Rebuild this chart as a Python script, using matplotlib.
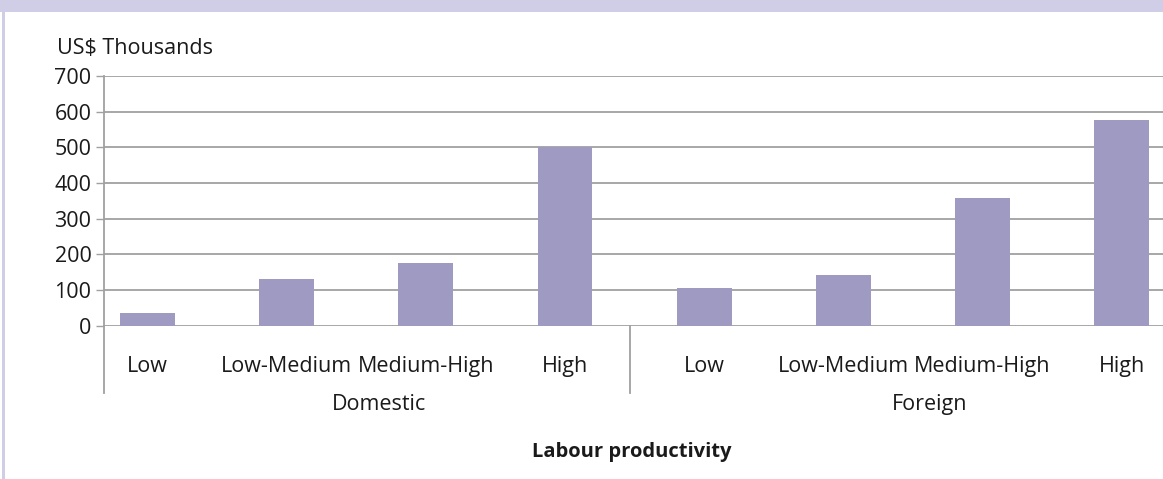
import matplotlib.pyplot as plt
import matplotlib.transforms as mtransforms
from matplotlib.patches import Rectangle

plt.rcParams['font.family'] = ['Open Sans', 'DejaVu Sans']

# values (US$ thousands)
groups = ['Domestic', 'Foreign']
levels = ['Low', 'Low-Medium', 'Medium-High', 'High']
domestic = [35, 132, 177, 500]
foreign = [105, 143, 359, 577]
yticks = [0, 100, 200, 300, 400, 500, 600, 700]

bar_color = '#9e9ac2'
grid_color = '#a0a0a0'
frame_color = '#d0cee6'
text_color = '#1a1a1a'
fs = 15.5

fig = plt.figure(figsize=(11.63, 4.79), dpi=100)
fig.patch.set_facecolor('white')

# lavender frame bits (top band and left strip)
fig.patches.append(Rectangle((0, 1 - 12 / 479), 1, 12 / 479, transform=fig.transFigure,
                             facecolor=frame_color, edgecolor='none', zorder=0))
fig.patches.append(Rectangle((2 / 1163, 0), 3 / 1163, 1, transform=fig.transFigure,
                             facecolor=frame_color, edgecolor='none', zorder=0))

ax = fig.add_axes([104 / 1163, 153.3 / 479, 1 - 104 / 1163, (403 - 153.3) / 479])

values = domestic + foreign
xpos = list(range(len(values)))
ax.bar(xpos, values, width=0.395, color=bar_color, zorder=3)

ax.set_ylim(0, 700)
ax.set_xlim(-0.3126, 7.297)
ax.set_yticks(yticks)
ax.set_yticklabels([str(t) for t in yticks], fontsize=fs, color=text_color)
ax.tick_params(axis='y', length=6, width=1, color=grid_color, pad=3)
ax.set_xticks([])
ax.yaxis.grid(True, color=grid_color, linewidth=1.3, zorder=0)

for s in ['top', 'right', 'bottom']:
    ax.spines[s].set_visible(False)
ax.spines['left'].set_color(grid_color)
ax.spines['left'].set_linewidth(1.3)

trans = mtransforms.blended_transform_factory(ax.transData, ax.transAxes)
# extended left axis and group separator below the plot
ax.plot([-0.3126, -0.3126], [0, -0.27], transform=trans, color=grid_color,
        linewidth=1.3, clip_on=False)
ax.plot([3.47, 3.47], [0, -0.27], transform=trans, color=grid_color,
        linewidth=1.3, clip_on=False)

for i, x in enumerate(xpos):
    ax.text(x, -0.163, levels[i % 4], transform=trans, ha='center', va='center',
            fontsize=fs, color=text_color)
for g, name in enumerate(groups):
    ax.text([1.66, 5.62][g], -0.316, name, transform=trans, ha='center', va='center',
            fontsize=fs, color=text_color)

fig.text(632 / 1163, 1 - 452 / 479, 'Labour productivity', ha='center', va='center',
         fontsize=14.5, fontweight='bold', color=text_color)
fig.text(57 / 1163, 1 - 49 / 479, 'US$ Thousands', ha='left', va='center',
         fontsize=fs, color=text_color)

fig.savefig('out.png', dpi=100)
